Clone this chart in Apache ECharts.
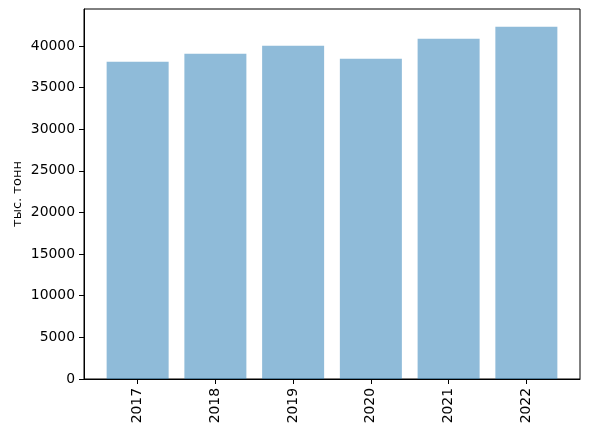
<!DOCTYPE html>
<html>
<head>
<meta charset="utf-8">
<script src="https://cdn.jsdelivr.net/npm/echarts@6/dist/echarts.min.js"></script>
<style>
  html, body { margin: 0; padding: 0; background: #fff; }
  #chart { width: 589px; height: 434px; }
</style>
</head>
<body>
<div id="chart"></div>
<script>
// данные
var years = ['2017', '2018', '2019', '2020', '2021', '2022'];
var values = [38100, 39070, 40030, 38470, 40880, 42320];
var yTicks = [0, 5000, 10000, 15000, 20000, 25000, 30000, 35000, 40000];

var barData = values.map(function (v, i) { return [i, v]; });
var xPos = years.map(function (y, i) { return i; });

var font = 'DejaVu Sans';
var chart = echarts.init(document.getElementById('chart'));
chart.setOption({
  animation: false,
  textStyle: { fontFamily: font },
  grid: {
    left: 84, right: 9, top: 9, bottom: 55,
    outerBoundsMode: 'none',
    containLabel: false,
    show: true, borderColor: '#000', borderWidth: 1, backgroundColor: 'transparent'
  },
  xAxis: {
    type: 'value',
    min: -0.69, max: 5.69,
    splitLine: { show: false },
    axisLine: { show: true, onZero: false, lineStyle: { color: '#000', width: 1 } },
    axisTick: { show: true, length: 5, lineStyle: { color: '#000' }, customValues: xPos },
    axisLabel: {
      customValues: xPos,
      rotate: 90, margin: 9, color: '#000', fontSize: 13.9, fontFamily: font,
      formatter: function (v) { return years[Math.round(v)]; }
    }
  },
  yAxis: {
    type: 'value',
    min: 0, max: 44440,
    name: 'тыс. тонн',
    nameLocation: 'middle',
    nameMoveOverlap: false,
    nameGap: 60,
    nameTextStyle: { color: '#000', fontSize: 13, fontFamily: font },
    splitLine: { show: false },
    axisLine: { show: true, onZero: false, lineStyle: { color: '#000', width: 1 } },
    axisTick: { show: true, length: 5, lineStyle: { color: '#000' }, customValues: yTicks },
    axisLabel: {
      customValues: yTicks,
      margin: 9, color: '#000', fontSize: 13.9, fontFamily: font,
      formatter: function (v) { return String(v); }
    }
  },
  series: [{
    type: 'bar',
    data: barData,
    barWidth: 62,
    itemStyle: { color: 'rgba(31,119,180,0.5)' }
  }]
});
</script>
</body>
</html>
